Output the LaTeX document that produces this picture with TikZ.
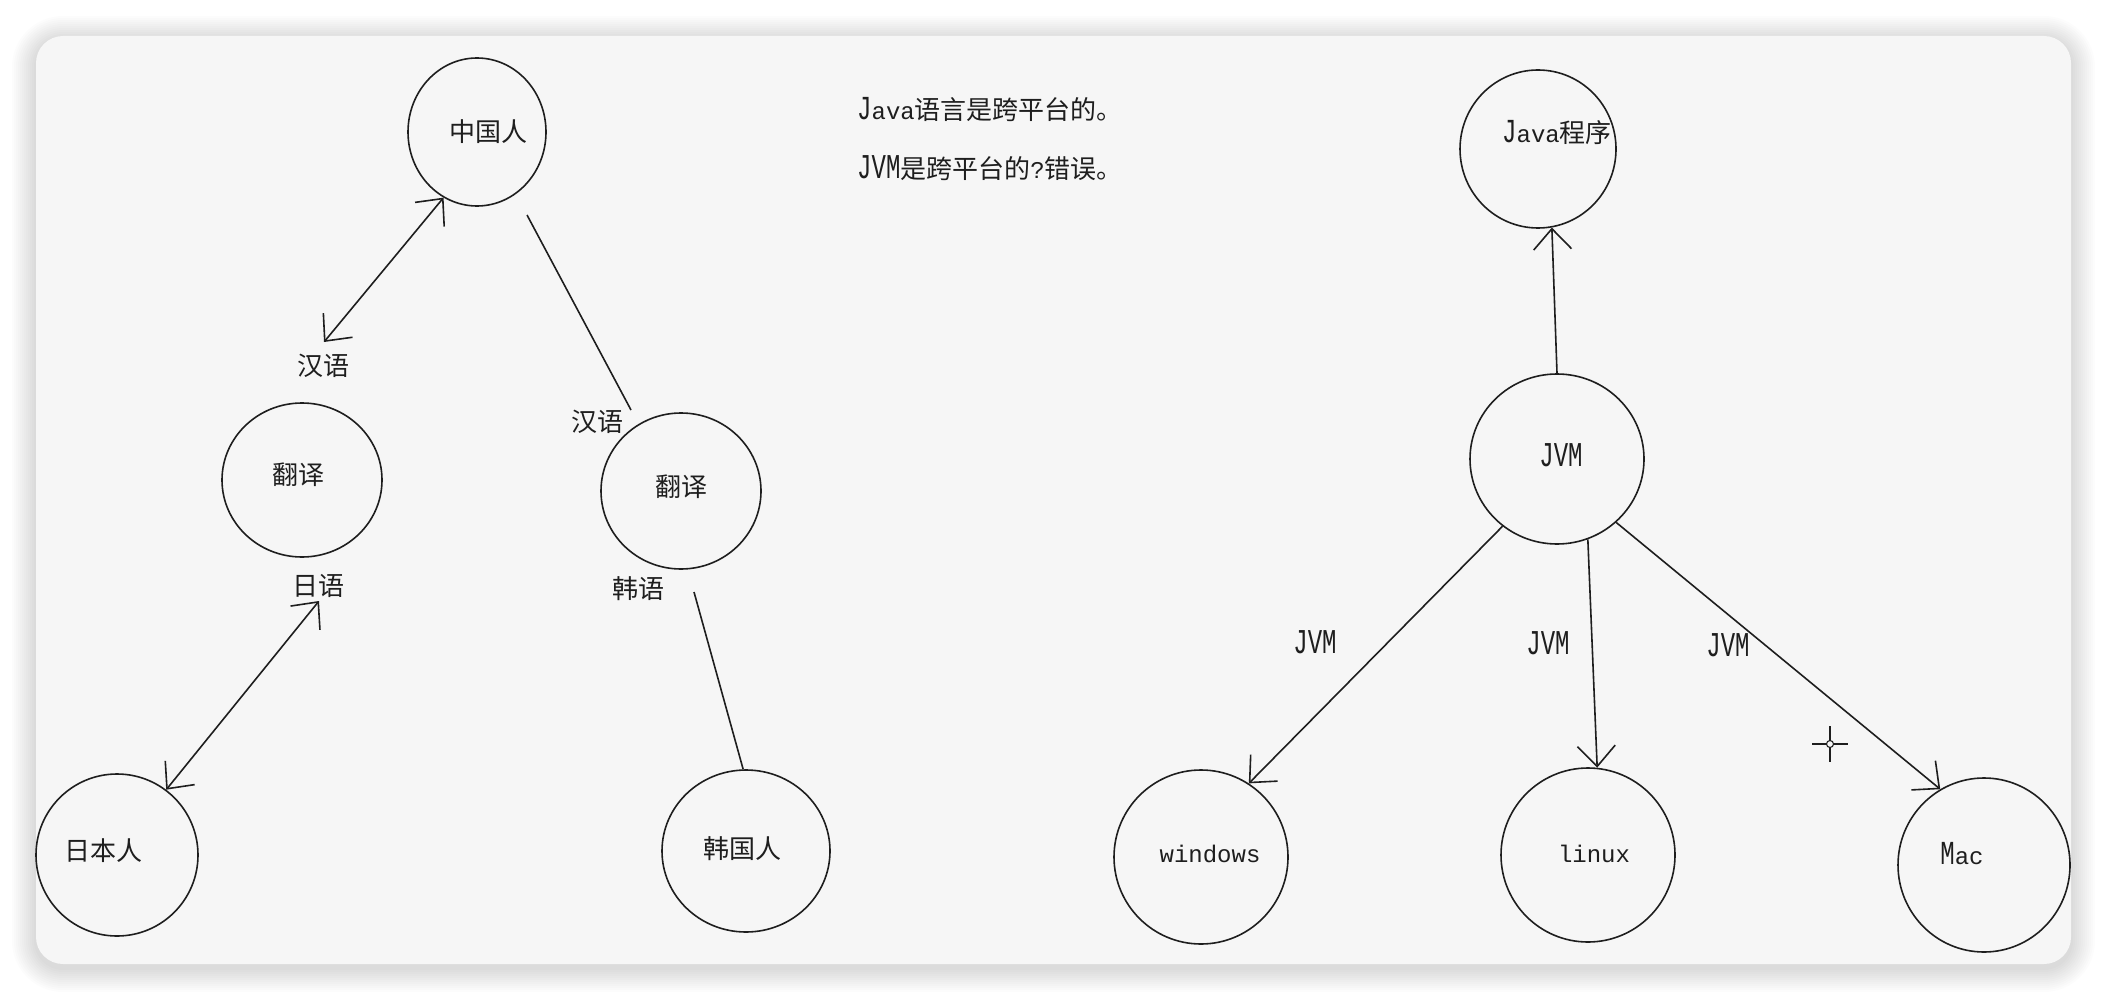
\documentclass[tikz,border=0pt]{standalone}
\usepackage{fontspec}
\setmainfont{Noto Sans CJK SC}
\newfontfamily\latf{Liberation Mono}
\usetikzlibrary{shapes.geometric,arrows.meta}
\definecolor{cardbg}{HTML}{F6F6F6}
\definecolor{ink}{HTML}{1E1E1E}
\newcommand{\tallJVM}{\scalebox{1}[1.45]{JVM}}
\newcommand{\tallcap}[1]{\scalebox{1}[1.4]{#1}}
\begin{document}
\begin{tikzpicture}[x=1pt,y=-1pt,
  circ/.style={draw=ink, line width=1.6pt, ellipse, inner sep=0pt},
  txt/.style={inner sep=0pt, text=ink, font=\fontsize{26}{28}\selectfont},
  lat/.style={inner sep=0pt, text=ink, font=\fontsize{24}{26}\selectfont\latf},
  conn/.style={draw=ink, line width=1.6pt, >={Straight Barb[angle=85:28pt]}}
]
\useasboundingbox (0,0) rectangle (2108,1000);
\fill[white] (0,0) rectangle (2108,1000);
% shadow
\foreach \i in {1,...,12}{
  \pgfmathsetmacro\rr{27+2*\i}
  \fill[black, opacity=0.011, rounded corners=\rr pt] ({36-2*\i},{36-2*\i+4}) rectangle ({2071+2*\i},{964+2*\i+4});
}
% card
\fill[cardbg, rounded corners=27pt] (36,36) rectangle (2071,964);

% left diagram
\node[circ, minimum width=138pt, minimum height=148pt] (zgr) at (477,132) {};
\node[txt] (zgrt) at (488,132) {中国人};
\node[circ, minimum width=160pt, minimum height=154pt] (fy1) at (302,480) {};
\node[txt] (fy1t) at (298,475) {翻译};
\node[circ, minimum width=160pt, minimum height=156pt] (fy2) at (681,491) {};
\node[txt] (fy2t) at (681,487) {翻译};
\node[circ, minimum width=162pt, minimum height=162pt] (rbr) at (117,855) {};
\node[txt] (rbrt) at (103,851) {日本人};
\node[circ, minimum width=168pt, minimum height=162pt] (hgr) at (746,851) {};
\node[txt] (hgrt) at (742,849) {韩国人};

\node[txt] (hy1) at (323,366) {汉语};
\node[txt] (hy2) at (597,422) {汉语};
\node[txt] (ry) at (318,586) {日语};
\node[txt] (hy3) at (638,589) {韩语};

\coordinate (a1) at (324,342);
\draw[conn,<->] (a1) -- (zgr.243);
\coordinate (b1) at (527,215);
\coordinate (b2) at (631,410);
\draw[conn] (b1) -- (b2);
\coordinate (c1) at (319,601);
\draw[conn,<->] (c1) -- (rbr.53);
\coordinate (d1) at (694,592);
\draw[conn] (d1) -- (hgr.92);

% middle text
\node[txt, anchor=west] (t1) at (857,110) {{\latf\fontsize{24}{26}\selectfont \tallcap{J}ava}语言是跨平台的。};
\node[txt, anchor=west] (t2) at (857,168) {{\latf\fontsize{24}{26}\selectfont \tallJVM}是跨平台的{\latf\fontsize{24}{26}\selectfont ?}错误。};

% right diagram
\node[circ, minimum width=156pt, minimum height=158pt] (java) at (1538,149) {};
\node[txt] (javat) at (1557,133) {{\latf\fontsize{24}{26}\selectfont \tallcap{J}ava}程序};
\node[circ, minimum width=174pt, minimum height=170pt] (jvm) at (1557,459) {};
\node[lat] (jvmt) at (1561,455) {\tallJVM};
\node[circ, minimum width=174pt, minimum height=174pt] (win) at (1201,857) {};
\node[lat] (wint) at (1210,854) {windows};
\node[circ, minimum width=174pt, minimum height=174pt] (lin) at (1588,855) {};
\node[lat] (lint) at (1594,854) {linux};
\node[circ, minimum width=172pt, minimum height=174pt] (mac) at (1984,865) {};
\node[lat] (mact) at (1962,854) {\tallcap{M}ac};

\node[lat] (j1) at (1315,642) {\tallJVM};
\node[lat] (j2) at (1548,643) {\tallJVM};
\node[lat] (j3) at (1728,645) {\tallJVM};

\draw[conn,->] (jvm.north) -- (java.280);
\draw[conn,->] (jvm.231) -- (win.57);
\draw[conn,->] (jvm.291) -- (lin.84);
\draw[conn,->] (jvm.313) -- (mac.120);

% cursor crosshair
\draw[ink, line width=1.3pt] (1812,744) -- (1848,744) (1830,726) -- (1830,762);
\draw[ink, line width=1.1pt, fill=cardbg] (1830,744) circle (3.5pt);
\end{tikzpicture}
\end{document}
